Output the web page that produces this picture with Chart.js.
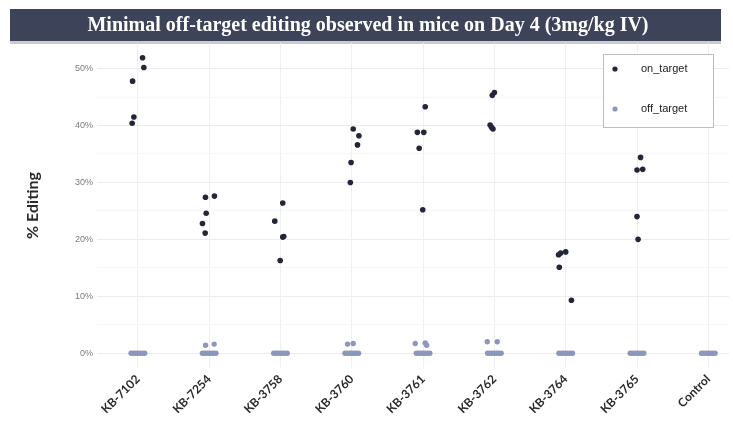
<!DOCTYPE html>
<html>
<head>
<meta charset="utf-8">
<script src="https://cdn.jsdelivr.net/npm/chart.js@4/dist/chart.umd.min.js"></script>
<style>
  html, body { margin: 0; padding: 0; background: #ffffff; }
  #wrap { width: 733px; height: 428px; position: relative; }
</style>
</head>
<body>
<div id="wrap"><canvas id="chart"></canvas></div>
<script>
// ---- data -------------------------------------------------------------
const chartTitle = 'Minimal off-target editing observed in mice on Day 4 (3mg/kg IV)';
const yAxisTitle = '% Editing';
const categories = ['KB-7102', 'KB-7254', 'KB-3758', 'KB-3760', 'KB-3761', 'KB-3762', 'KB-3764', 'KB-3765', 'Control'];
const yTicks = [0, 10, 20, 30, 40, 50];
const seriesNames = ['on_target', 'off_target'];

// on-target % editing per mouse, one list per group
const onTarget = [
  [51.9, 50.2, 47.8, 41.5, 40.4],
  [27.6, 27.4, 24.6, 22.8, 21.1],
  [26.4, 23.2, 20.5, 20.4, 16.3],
  [39.4, 38.2, 36.6, 33.5, 30.0],
  [43.3, 38.8, 38.8, 36.0, 25.2],
  [45.8, 45.3, 40.1, 39.7, 39.4],
  [17.8, 17.6, 17.3, 15.1, 9.3],
  [34.4, 32.3, 32.2, 24.0, 20.0],
  []
];
// horizontal jitter of each on-target point (in category units)
const onTargetJitter = [
  [0.066, 0.084, -0.074, -0.056, -0.080],
  [0.074, -0.052, -0.042, -0.094, -0.056],
  [0.032, -0.080, 0.046, 0.032, -0.004],
  [0.020, 0.100, 0.080, -0.010, -0.020],
  [0.030, -0.080, 0.010, -0.055, -0.005],
  [0.000, -0.030, -0.060, -0.040, -0.020],
  [0.000, -0.070, -0.100, -0.090, 0.080],
  [0.050, 0.080, 0.000, 0.000, 0.015],
  []
];

// off-target % editing per site, one list per group
const offTarget = [
  [0, 0, 0, 0, 0, 0, 0],
  [0, 0, 0, 0, 0, 0, 0, 1.4, 1.6],
  [0, 0, 0, 0, 0, 0, 0],
  [0, 0, 0, 0, 0, 0, 0, 1.6, 1.7],
  [0, 0, 0, 0, 0, 0, 0, 1.7, 1.8, 1.4],
  [0, 0, 0, 0, 0, 0, 0, 2.0, 2.0],
  [0, 0, 0, 0, 0, 0, 0],
  [0, 0, 0, 0, 0, 0, 0],
  [0, 0, 0, 0, 0, 0, 0]
];
const offTargetJitter = [
  [-0.095, -0.063, -0.03, 0, 0.03, 0.063, 0.095],
  [-0.095, -0.063, -0.03, 0, 0.03, 0.063, 0.095, -0.05, 0.07],
  [-0.095, -0.063, -0.03, 0, 0.03, 0.063, 0.095],
  [-0.095, -0.063, -0.03, 0, 0.03, 0.063, 0.095, -0.06, 0.02],
  [-0.095, -0.063, -0.03, 0, 0.03, 0.063, 0.095, -0.11, 0.03, 0.05],
  [-0.095, -0.063, -0.03, 0, 0.03, 0.063, 0.095, -0.10, 0.04],
  [-0.095, -0.063, -0.03, 0, 0.03, 0.063, 0.095],
  [-0.095, -0.063, -0.03, 0, 0.03, 0.063, 0.095],
  [-0.095, -0.063, -0.03, 0, 0.03, 0.063, 0.095]
];

// ---- styling ----------------------------------------------------------
const ON_COLOR = '#23263a';
const OFF_COLOR = '#8c97bd';
const BAR_COLOR = '#3d4459';

function toPoints(values, jitter) {
  const pts = [];
  values.forEach((list, i) => {
    list.forEach((v, j) => pts.push({ x: i + 1 + jitter[i][j], y: v }));
  });
  return pts;
}

// dark title banner across the top
const bannerPlugin = {
  id: 'banner',
  beforeDraw(chart) {
    const ctx = chart.ctx;
    ctx.save();
    ctx.fillStyle = '#c9ccd3';
    ctx.fillRect(10, 9, 711, 35);
    ctx.fillStyle = BAR_COLOR;
    ctx.fillRect(10, 9, 711, 32);
    ctx.fillStyle = '#ffffff';
    ctx.font = 'bold 20px "Liberation Serif", "DejaVu Serif", serif';
    ctx.textAlign = 'center';
    ctx.textBaseline = 'middle';
    ctx.fillText(chartTitle, 368, 26);
    ctx.restore();
  }
};

// boxed legend placed inside the plot area, top right
const boxLegendPlugin = {
  id: 'boxLegend',
  afterDatasetsDraw(chart) {
    const ctx = chart.ctx;
    const x0 = 603, y0 = 54, w = 110, h = 73;
    ctx.save();
    ctx.fillStyle = '#ffffff';
    ctx.fillRect(x0, y0, w, h);
    ctx.strokeStyle = '#bdbdbd';
    ctx.lineWidth = 1;
    ctx.strokeRect(x0 + 0.5, y0 + 0.5, w, h);
    ctx.font = '11px "Liberation Sans", Arial, sans-serif';
    ctx.textBaseline = 'middle';
    ctx.textAlign = 'left';
    const rows = [y0 + 15, y0 + 55];
    chart.data.datasets.forEach((ds, i) => {
      ctx.fillStyle = ds.backgroundColor;
      ctx.beginPath();
      ctx.arc(x0 + 12, rows[i], 2.6, 0, Math.PI * 2);
      ctx.fill();
      ctx.fillStyle = '#222222';
      ctx.fillText(ds.label, x0 + 38, rows[i]);
    });
    ctx.restore();
  }
};

const ctx = document.getElementById('chart').getContext('2d');
new Chart(ctx, {
  type: 'scatter',
  data: {
    datasets: [
      {
        label: seriesNames[0],
        data: toPoints(onTarget, onTargetJitter),
        backgroundColor: ON_COLOR,
        borderColor: ON_COLOR,
        borderWidth: 0,
        pointRadius: 2.8,
        order: 0
      },
      {
        label: seriesNames[1],
        data: toPoints(offTarget, offTargetJitter),
        backgroundColor: OFF_COLOR,
        borderColor: OFF_COLOR,
        borderWidth: 0,
        pointRadius: 2.7,
        order: 1
      }
    ]
  },
  options: {
    responsive: true,
    maintainAspectRatio: false,
    animation: false,
    layout: { padding: { top: 43, right: 2, left: 0, bottom: 0 } },
    plugins: {
      legend: { display: false },
      tooltip: { enabled: false },
      title: { display: false }
    },
    scales: {
      x: {
        type: 'linear',
        min: 0.427,
        max: 9.29,
        afterBuildTicks(scale) {
          scale.ticks = categories.map((_, i) => ({ value: i + 1 }));
        },
        afterFit(scale) { scale.height = 60; },
        grid: { color: '#eeeff2', drawTicks: false },
        border: { display: false },
        ticks: {
          autoSkip: false,
          maxRotation: 45,
          minRotation: 45,
          padding: 4,
          color: '#2a2a2a',
          font: { family: 'Lato, "Open Sans", sans-serif', size: 12, weight: 'bold' },
          callback: (v) => categories[Math.round(v) - 1] ?? ''
        }
      },
      y: {
        type: 'linear',
        min: -2.6,
        max: 54.5,
        afterBuildTicks(scale) {
          const t = [];
          for (let v = 0; v <= 50; v += 5) t.push({ value: v });
          scale.ticks = t;
        },
        afterFit(scale) { scale.width = 97; },
        grid: {
          drawTicks: false,
          color: (c) => (c.tick && yTicks.includes(c.tick.value)) ? '#ebecef' : '#f5f6f8'
        },
        border: { display: false },
        title: {
          display: true,
          text: yAxisTitle,
          color: '#2a2a2a',
          font: { family: 'Lato, "Open Sans", sans-serif', size: 16, weight: 'bold' },
          padding: { top: 23, bottom: 0 }
        },
        ticks: {
          padding: 4,
          color: '#7a7a7a',
          font: { family: '"Liberation Sans", Arial, sans-serif', size: 9 },
          callback: (v) => yTicks.includes(v) ? v + '%' : ''
        }
      }
    }
  },
  plugins: [bannerPlugin, boxLegendPlugin]
});
</script>
</body>
</html>
